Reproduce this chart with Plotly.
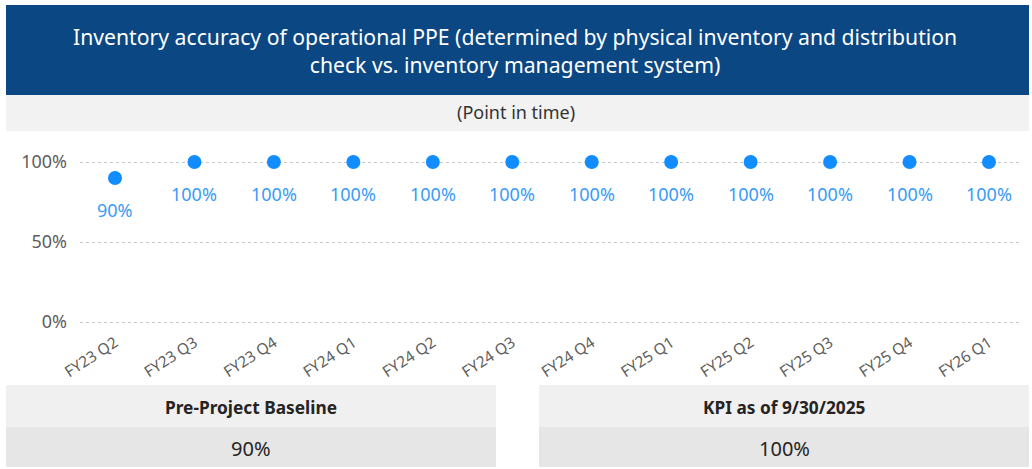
import plotly.graph_objects as go

quarters = ["FY23 Q2", "FY23 Q3", "FY23 Q4", "FY24 Q1", "FY24 Q2", "FY24 Q3",
            "FY24 Q4", "FY25 Q1", "FY25 Q2", "FY25 Q3", "FY25 Q4", "FY26 Q1"]
accuracy = [0.90, 1.00, 1.00, 1.00, 1.00, 1.00, 1.00, 1.00, 1.00, 1.00, 1.00, 1.00]
y_ticks = [0, 0.5, 1.0]
y_tick_labels = ["0%", "50%", "100%"]

title_text = ("Inventory accuracy of operational PPE (determined by physical inventory and distribution"
              "<br>check vs. inventory management system)")
subtitle_text = "(Point in time)"
baseline_label = "Pre-Project Baseline"
baseline_value = "90%"
kpi_label = "KPI as of 9/30/2025"
kpi_value = "100%"

W, H = 1032, 469
L, R, T, B = 80, 10, 140, 139
PW, PH = W - L - R, H - T - B

def px(x):
    return (x - L) / PW

def py(y):
    return (H - B - y) / PH

FONT = "Noto Sans"

fig = go.Figure()
fig.add_trace(go.Scatter(
    x=quarters, y=accuracy, mode="markers",
    marker=dict(size=14, color="#118DFF"),
    hoverinfo="skip", showlegend=False, cliponaxis=False,
))

annotations = []
for q, v in zip(quarters, accuracy):
    annotations.append(dict(
        x=q, y=v, xref="x", yref="y", text=f"{v:.0%}", showarrow=False,
        xanchor="center", yanchor="middle",
        yshift=-32, font=dict(family=FONT, size=18, color="#3A9BF7"),
    ))

def rect(x0, x1, y0, y1, color):
    return dict(type="rect", xref="paper", yref="paper", x0=px(x0), x1=px(x1),
                y0=py(y0), y1=py(y1), fillcolor=color, line=dict(width=0), layer="below")

shapes = [
    rect(6, 1029, 5, 95, "#0B4782"),
    rect(6, 1029, 95, 131, "#F2F2F2"),
    rect(6, 496, 385, 427, "#F0F0F0"),
    rect(6, 496, 427, 467, "#E6E6E6"),
    rect(539, 1029, 385, 427, "#F0F0F0"),
    rect(539, 1029, 427, 467, "#E6E6E6"),
]

def label(x, y, text, size, color, bold=False):
    return dict(xref="paper", yref="paper", x=px(x), y=py(y),
                text=f"<b>{text}</b>" if bold else text, showarrow=False,
                xanchor="center", yanchor="middle", align="center",
                font=dict(family=FONT, size=size, color=color))

annotations += [
    label(515, 50, title_text, 21.2, "#FFFFFF"),
    label(516, 112, subtitle_text, 18, "#333333"),
    label(251, 407, baseline_label, 17.3, "#252423", bold=True),
    label(251, 448, baseline_value, 20, "#252423"),
    label(784, 407, kpi_label, 17.3, "#252423", bold=True),
    label(784, 448, kpi_value, 20, "#252423"),
]

x0 = 115
step = (989 - 115) / 11
y_bottom = -(H - B - 322) / 160.0
y_top = (322 - T) / 160.0

fig.update_layout(
    width=W, height=H,
    margin=dict(l=L, r=R, t=T, b=B),
    paper_bgcolor="#FFFFFF", plot_bgcolor="#FFFFFF",
    font=dict(family=FONT),
    shapes=shapes, annotations=annotations,
    xaxis=dict(
        type="category", range=[(L - x0) / step, (L + PW - x0) / step],
        showgrid=False, showline=False, zeroline=False, ticks="",
        tickangle=-33, tickfont=dict(family=FONT, size=15.5, color="#605E5C"),
        fixedrange=True,
    ),
    yaxis=dict(
        range=[y_bottom, y_top], tickvals=y_ticks, ticktext=y_tick_labels,
        showgrid=True, gridcolor="#C8C8C8", griddash="dot", gridwidth=1,
        zeroline=False, showline=False, ticks="", ticklabelstandoff=12,
        tickfont=dict(family=FONT, size=18, color="#605E5C"),
        fixedrange=True,
    ),
)

fig.write_html("out.html", config={"displayModeBar": False},
               post_script="document.body.style.margin='0px';")
